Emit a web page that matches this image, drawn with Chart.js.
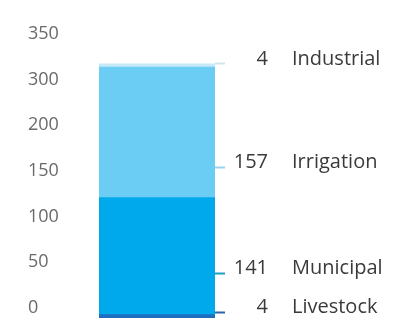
<!DOCTYPE html>
<html>
<head>
<meta charset="utf-8">
<script src="https://cdn.jsdelivr.net/npm/chart.js@4.4.0/dist/chart.umd.min.js"></script>
<style>
html, body { margin: 0; padding: 0; background: #fff; }
#wrap { width: 395px; height: 322px; }
</style>
</head>
<body>
<div id="wrap"><canvas id="myChart"></canvas></div>
<script>
var sectors = ['Livestock', 'Municipal', 'Irrigation', 'Industrial'];
var useValues = [4, 141, 157, 4];
var yTickLabels = ['0', '50', '100', '150', '200', '300', '350'];
// value-axis spots the callouts point at
var calloutAt = [7, 54, 181, 306];

var sectorColors = ['#1f6dbf', '#00a9ec', '#6ccdf4', '#c6e9f8'];
var tickMarkColors = ['#2c64a8', '#1f9fbf', '#98d2ea', '#cfe6ee'];

var textFont = 'Open Sans';

var datasets = sectors.map((name, i) => ({
    label: name,
    data: [useValues[i]],
    backgroundColor: sectorColors[i],
    borderWidth: 0,
    barPercentage: 1,
    categoryPercentage: 1
}));

var noPad = s => { s.paddingTop = 0; s.paddingBottom = 0; };

var ctx = document.getElementById('myChart').getContext('2d');

var myChart = new Chart(ctx, {
    type: 'bar',
    data: { labels: ['Total'], datasets: datasets },
    options: {
        responsive: true,
        maintainAspectRatio: false,
        animation: false,
        layout: { padding: { top: 19, bottom: 4, left: 28, right: 0 } },
        plugins: { legend: { display: false }, tooltip: { enabled: false } },
        scales: {
            x: { type: 'category', display: false, stacked: true, offset: true },
            y: { stacked: true, display: false, min: 0, max: 360 },
            yTicks: {
                position: 'left',
                min: -0.219,
                max: 6.328,
                afterBuildTicks: s => { s.ticks = yTickLabels.map((t, i) => ({ value: i })); },
                afterFit: s => { s.width = 71; noPad(s); },
                grid: { display: false, drawTicks: false },
                border: { display: false },
                ticks: {
                    autoSkip: false,
                    crossAlign: 'far',
                    color: '#6a6a6a',
                    font: { family: textFont, size: 18 },
                    callback: (v, i) => yTickLabels[i]
                }
            },
            yNum: {
                position: 'right',
                weight: 0,
                min: 0,
                max: 360,
                afterBuildTicks: s => { s.ticks = calloutAt.map(v => ({ value: v })); },
                afterFit: s => { s.width = 53; noPad(s); },
                grid: {
                    drawOnChartArea: false,
                    drawTicks: true,
                    tickLength: 10,
                    tickWidth: 2,
                    tickColor: c => tickMarkColors[c.index]
                },
                border: { display: false },
                ticks: {
                    autoSkip: false,
                    crossAlign: 'far',
                    labelOffset: -5,
                    color: '#3a3a3a',
                    font: { family: textFont, size: 20 },
                    callback: (v, i) => String(useValues[i])
                }
            },
            yName: {
                position: 'right',
                weight: 1,
                min: 0,
                max: 360,
                afterBuildTicks: s => { s.ticks = calloutAt.map(v => ({ value: v })); },
                afterFit: s => { s.width = 127; noPad(s); },
                grid: { display: false, drawTicks: false },
                border: { display: false },
                ticks: {
                    autoSkip: false,
                    padding: 24,
                    labelOffset: -5,
                    color: '#3a3a3a',
                    font: { family: textFont, size: 20 },
                    callback: (v, i) => sectors[i]
                }
            }
        }
    }
});
</script>
</body>
</html>
